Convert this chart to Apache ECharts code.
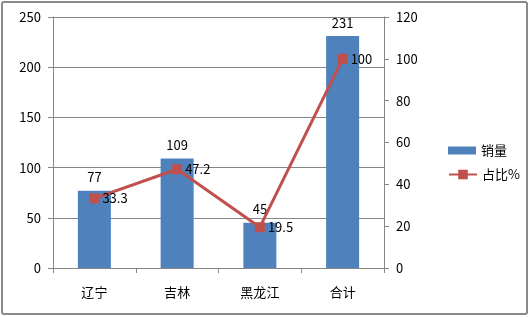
<!DOCTYPE html>
<html><head><meta charset="utf-8">
<script src="https://cdn.jsdelivr.net/npm/echarts@6/dist/echarts.min.js"></script>
<style>html,body{margin:0;padding:0;background:#fff}#c{width:530px;height:317px}
#frame{position:absolute;left:1px;top:1px;width:527px;height:314px;border:2px solid #8a8a8a;border-radius:3px;box-sizing:border-box;pointer-events:none}</style>
</head><body><div id="c"></div><div id="frame"></div>
<script>
const categories = ['辽宁', '吉林', '黑龙江', '合计'];
const sales = [77, 109, 45, 231];
const share = [33.3, 47.2, 19.5, 100];
const seriesNames = ['销量', '占比%'];
const font = '"Noto Sans CJK SC", "Open Sans", sans-serif';
const chart = echarts.init(document.getElementById('c'));
chart.setOption({
  animation: false,
  textStyle: { fontFamily: font },
  grid: { left: 53, right: 146, top: 17, bottom: 49, containLabel: false },
  legend: [
    {
      left: 443, top: 139, itemWidth: 28, itemHeight: 8,
      textStyle: { fontSize: 13, color: '#000', fontFamily: font },
      data: [{ name: seriesNames[0], icon: 'rect' }]
    },
    {
      left: 443, top: 163, itemWidth: 28, itemHeight: 12,
      textStyle: { fontSize: 13, color: '#000', fontFamily: font },
      data: [{ name: seriesNames[1] }]
    }
  ],
  xAxis: {
    type: 'category', data: categories,
    axisLine: { lineStyle: { color: '#868686' } },
    axisTick: { show: true, length: 5, lineStyle: { color: '#868686' } },
    axisLabel: { color: '#000', fontSize: 13, margin: 18, fontFamily: font }
  },
  yAxis: [
    {
      type: 'value', min: 0, max: 250, interval: 50,
      axisLine: { show: true, lineStyle: { color: '#868686' } },
      axisTick: { show: true, length: 5, lineStyle: { color: '#868686' } },
      splitLine: { lineStyle: { color: '#868686' } },
      axisLabel: { color: '#000', fontSize: 13, margin: 12, fontFamily: font }
    },
    {
      type: 'value', min: 0, max: 120, interval: 20,
      axisLine: { show: true, lineStyle: { color: '#868686' } },
      axisTick: { show: true, length: 5, lineStyle: { color: '#868686' } },
      splitLine: { show: false },
      axisLabel: { color: '#000', fontSize: 13, margin: 12, fontFamily: font }
    }
  ],
  series: [
    {
      name: seriesNames[0], type: 'bar', data: sales, barWidth: 33,
      itemStyle: { color: '#4F81BD' },
      label: { show: true, position: 'top', distance: 7, color: '#000', fontSize: 13, fontFamily: font }
    },
    {
      name: seriesNames[1], type: 'line', yAxisIndex: 1, data: share,
      symbol: 'rect', symbolSize: 10,
      lineStyle: { color: '#C0504D', width: 3 },
      itemStyle: { color: '#C0504D' },
      label: { show: true, position: 'right', distance: 3, color: '#000', fontSize: 13, fontFamily: font }
    }
  ]
});
</script></body></html>
